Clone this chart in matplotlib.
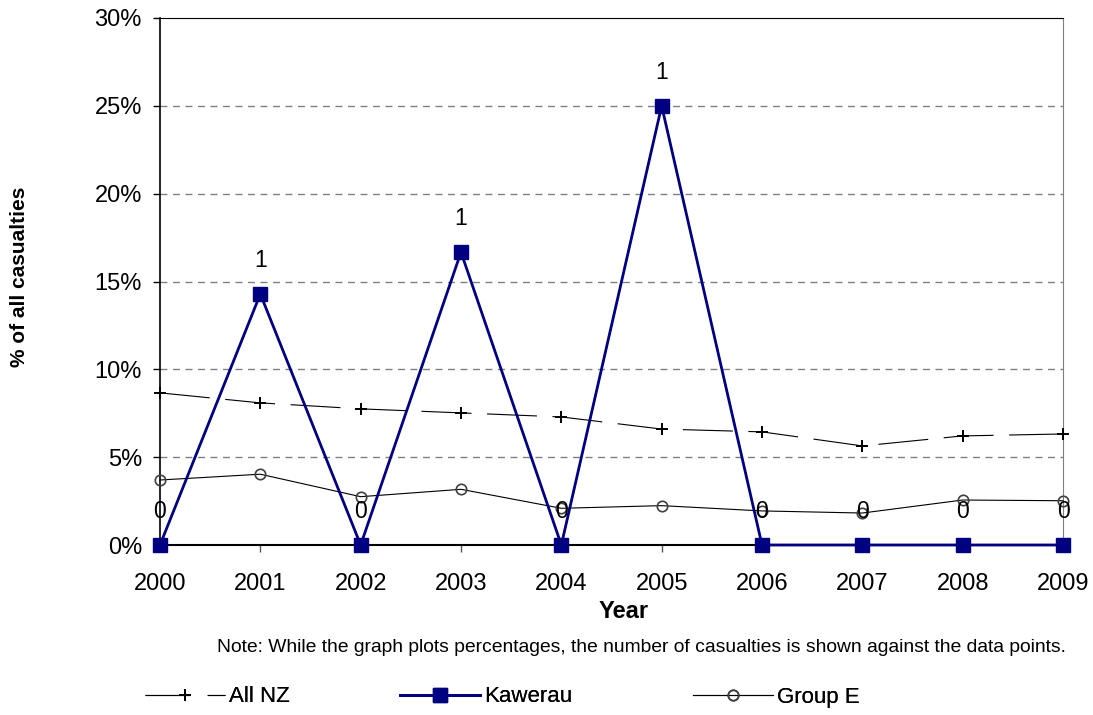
import numpy as np
import matplotlib
matplotlib.use("Agg")
import matplotlib.pyplot as plt
from matplotlib.lines import Line2D
from matplotlib.ticker import FuncFormatter

plt.rcParams["font.family"] = ["Liberation Sans", "DejaVu Sans"]

years = [2000, 2001, 2002, 2003, 2004, 2005, 2006, 2007, 2008, 2009]
all_nz = [8.66, 8.09, 7.75, 7.52, 7.29, 6.60, 6.44, 5.64, 6.21, 6.32]
kawerau = [0, 14.29, 0, 16.67, 0, 25.0, 0, 0, 0, 0]
group_e = [3.70, 4.03, 2.75, 3.17, 2.09, 2.24, 1.94, 1.82, 2.56, 2.52]
kawerau_counts = ["0", "1", "0", "1", "0", "1", "0", "0", "0", "0"]
series_names = ["All NZ", "Kawerau", "Group E"]

W, H = 1093, 715
fig = plt.figure(figsize=(W / 100, H / 100), dpi=100)
ax = fig.add_axes([160 / W, 1 - 545 / H, 903 / W, 527 / H])

ax.set_xlim(2000, 2009)
ax.set_ylim(0, 30)

# dashed gridlines
for v in [5, 10, 15, 20, 25]:
    ax.axhline(v, color="#808080", lw=1, ls=(0, (5, 4)), zorder=0)

nz_style = dict(color="black", lw=0.8, ls=(0, (45, 14)), marker="+", ms=9, mew=1.4)
kaw_style = dict(color="#000080", lw=2, marker="s", ms=9.5, mfc="#000080", mec="#000080")
grp_style = dict(color="black", lw=0.8, marker="o", ms=7.5, mfc="none", mec="#404040", mew=1.2)

ax.plot(years, all_nz, clip_on=False, zorder=3, **nz_style)
ax.plot(years, group_e, clip_on=False, zorder=3, **grp_style)
ax.plot(years, kawerau, clip_on=False, zorder=4, **kaw_style)

for x, y, t in zip(years, kawerau, kawerau_counts):
    ax.annotate(t, (x, y), xytext=(0, 24), textcoords="offset points",
                ha="center", va="center", fontsize=16.5, color="black")

ax.set_xticks(years)
ax.set_yticks([0, 5, 10, 15, 20, 25, 30])
ax.yaxis.set_major_formatter(FuncFormatter(lambda v, p: f"{v:.0f}%"))
ax.tick_params(axis="both", labelsize=17, direction="out", length=5, width=1)
ax.tick_params(axis="y", pad=8)
ax.tick_params(axis="x", pad=15, color="#555555")

ax.spines["left"].set_linewidth(1.2)
ax.spines["bottom"].set_linewidth(1.5)
ax.spines["top"].set_color("black")
ax.spines["right"].set_color("#808080")

fig.text(624 / W, 1 - 611 / H, "Year", ha="center", va="center",
         fontsize=17, fontweight="bold")
fig.text(20 / W, 1 - 277 / H, "% of all casualties", rotation=90,
         ha="center", va="center", fontsize=15, fontweight="bold")

fig.text(217 / W, 1 - 648 / H,
         "Note: While the graph plots percentages, the number of casualties is shown against the data points.",
         ha="left", va="center", fontsize=13.85)

handles = [
    Line2D([], [], **{**nz_style, "ls": (0, (40, 16))}),
    Line2D([], [], **kaw_style),
    Line2D([], [], **grp_style),
]
legend_x = [145, 400, 693]
for h, name, lx in zip(handles, series_names, legend_x):
    leg = fig.legend([h], [name], frameon=False, loc="center left",
                     bbox_to_anchor=(lx / W, 1 - 697 / H), borderpad=0,
                     borderaxespad=0, fontsize=16, handlelength=3.6,
                     handletextpad=0.2)
    fig.add_artist(leg)

fig.savefig("out.png", dpi=100)
